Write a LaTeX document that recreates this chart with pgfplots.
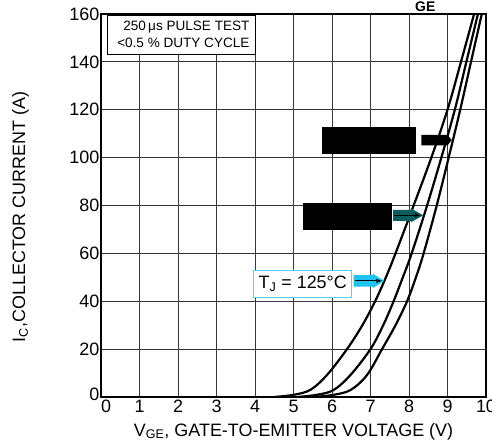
\documentclass[border=0pt]{standalone}
\usepackage{pgfplots}
\pgfplotsset{compat=1.18}
\usepackage{fontspec}
\setmainfont{Liberation Sans}
\definecolor{tealarr}{HTML}{0B5E5E}
\definecolor{cyanarr}{HTML}{1EC3F0}
\definecolor{cyanbox}{HTML}{55D0F5}
\newcommand{\bigf}{\fontsize{18}{20}\selectfont}
\begin{document}
\begin{tikzpicture}
\path[use as bounding box] (-101bp,-47bp) rectangle (391bp,397bp);
\begin{axis}[
  at={(0,0)}, anchor=south west,
  scale only axis, width=385bp, height=383bp,
  xmin=0, xmax=10, ymin=0, ymax=160,
  xtick={0,1,2,3,4,5,6,7,8,9,10}, ytick={0,20,40,60,80,100,120,140,160},
  xticklabels={\hspace*{10bp}0,1,2,3,4,5,6,7,8,9,10},
  yticklabels={\raisebox{6bp}{0},20,40,60,80,100,120,140,160},
  grid=major,
  major grid style={draw=black!78, line width=0.85bp},
  axis line style={line width=2.4bp},
  tick style={draw=none},
  ticklabel style={font=\bigf},
  yticklabel style={inner xsep=1.5bp},
  xticklabel style={inner ysep=3bp},
  xlabel={V\textsubscript{GE}, GATE-TO-EMITTER VOLTAGE (V)},
  ylabel={I\textsubscript{C},COLLECTOR CURRENT (A)},
  every axis x label/.style={at={(axis description cs:0.5,0)}, anchor=base, yshift=-39bp, font=\bigf},
  every axis y label/.style={at={(axis description cs:-0.197,0.47)}, anchor=base, rotate=90, font=\bigf},
]
% curves
\addplot[black, line width=2.2bp, smooth, tension=0.55] coordinates {
 (4.50,0) (5.00,0.9) (5.44,3.0) (5.87,9.2) (6.39,20) (6.79,30) (7.12,40) (7.40,50) (7.65,60) (8.12,80) (8.58,100) (9.00,120) (9.35,140) (9.69,160) (9.75,164)};
\addplot[black, line width=2.2bp, smooth, tension=0.55] coordinates {
 (5.10,0) (5.60,0.9) (6.04,2.9) (6.48,9.2) (7.00,20) (7.33,30) (7.60,40) (7.84,50) (8.07,60) (8.47,80) (8.84,100) (9.19,120) (9.49,140) (9.79,160) (9.85,164)};
\addplot[black, line width=2.2bp, smooth, tension=0.55] coordinates {
 (5.50,0) (6.00,0.8) (6.48,2.9) (6.91,9.2) (7.30,20) (7.65,30) (7.95,40) (8.18,50) (8.38,60) (8.72,80) (9.03,100) (9.33,120) (9.61,140) (9.89,160) (9.94,164)};
% top-left note
\draw[black, line width=1.2bp, fill=white] (axis cs:0.16,143.1) rectangle (axis cs:4.02,159.4);
\node[anchor=east, inner sep=0pt, font=\fontsize{13.6}{15}\selectfont] at (axis cs:3.86,154.5) {250\,μs PULSE TEST};
\node[anchor=east, inner sep=0pt, font=\fontsize{13.6}{15}\selectfont] at (axis cs:3.86,147.9) {<0.5 \% DUTY CYCLE};
% label 1 (black)
\fill[black] (axis cs:5.74,101.4) rectangle (axis cs:8.19,112.7);
\fill[black] (axis cs:8.32,105.1) -- (axis cs:9.00,105.1) -- (axis cs:9.11,107.3) -- (axis cs:9.00,109.5) -- (axis cs:8.32,109.5) -- cycle;
% label 2
\fill[black] (axis cs:5.25,69.7) rectangle (axis cs:7.56,81.2);
\fill[tealarr] (axis cs:7.59,73.6) -- (axis cs:8.05,73.6) -- (axis cs:8.05,73.0) -- (axis cs:8.37,75.9) -- (axis cs:8.05,78.8) -- (axis cs:8.05,78.2) -- (axis cs:7.59,78.2) -- cycle;
\draw[black, line width=1bp, -latex] (axis cs:7.62,75.9) -- (axis cs:8.30,75.9);
% label 3
\draw[cyanbox, line width=1bp, fill=white] (axis cs:3.96,41.5) rectangle (axis cs:6.50,53.0);
\node[font=\bigf, inner sep=0pt] at (axis cs:5.24,47.3) {T\textsubscript{J} = 125°C};
\fill[cyanarr] (axis cs:6.56,46.1) -- (axis cs:7.06,46.1) -- (axis cs:7.06,45.5) -- (axis cs:7.36,48.5) -- (axis cs:7.06,51.5) -- (axis cs:7.06,50.9) -- (axis cs:6.56,50.9) -- cycle;
\draw[black, line width=1bp, -latex] (axis cs:6.60,48.5) -- (axis cs:7.30,48.5);
\end{axis}
\node[anchor=base west, font=\bfseries\fontsize{14}{14}\selectfont, inner sep=0pt] at (314bp,385bp) {GE};
\end{tikzpicture}
\end{document}
